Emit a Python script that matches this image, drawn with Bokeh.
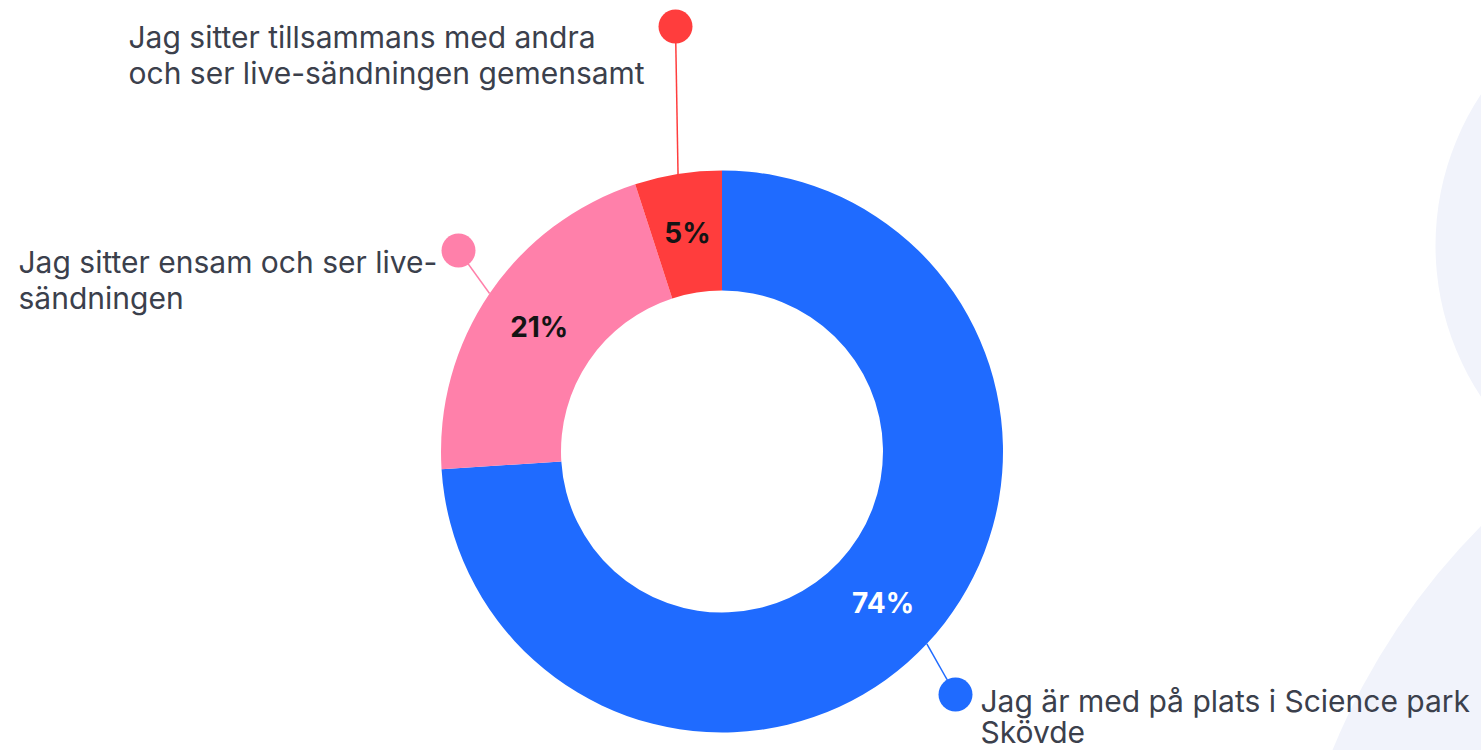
import numpy as np
from bokeh.plotting import figure
from bokeh.models import Range1d
from bokeh.core.properties import value
from bokeh.embed import file_html
from bokeh.resources import INLINE

# ---- data ----
categories = [
    "Jag är med på plats i Science park Skövde",
    "Jag sitter ensam och ser live-sändningen",
    "Jag sitter tillsammans med andra och ser live-sändningen gemensamt",
]
label_lines = [
    ["Jag är med på plats i Science park", "Skövde"],
    ["Jag sitter ensam och ser live-", "sändningen"],
    ["Jag sitter tillsammans med andra", "och ser live-sändningen gemensamt"],
]
percent = [74, 21, 5]
colors = ["#1f6bff", "#ff80aa", "#ff3d3d"]
pct_text_colors = ["#ffffff", "#141414", "#141414"]

# ---- layout (pixel coords, y measured from top) ----
W, H = 1481, 750
CX, CY = 721.5, 451
R_OUT, R_IN = 281, 161
dot_pos = [(955, 694), (458, 250), (675, 26)]
text_pos = [(980, 700, 731), (18, 261, 297), (128, 36, 72)]
FONT = "Inter"


def fy(y):
    return H - y


p = figure(width=W, height=H, x_range=Range1d(0, W), y_range=Range1d(0, H),
           output_backend="svg", toolbar_location=None, min_border=0)
p.axis.visible = False
p.grid.visible = False
p.outline_line_color = None
p.background_fill_color = "white"
p.border_fill_color = "white"

# decorative background shapes
p.circle(x=[1709], y=[fy(245)], radius=274, fill_color="#f1f3fb", line_color=None)
p.circle(x=[1973], y=[fy(1013)], radius=693, fill_color="#f1f3fb", line_color=None)

pct = np.array(percent, dtype=float)
cum = np.concatenate([[0], np.cumsum(pct)]) / pct.sum()
starts = np.pi / 2 - cum[1:] * 2 * np.pi
ends = np.pi / 2 - cum[:-1] * 2 * np.pi
mids = (starts + ends) / 2

cy = fy(CY)

# leader lines and dots
for i in range(len(percent)):
    ox = CX + R_OUT * np.cos(mids[i])
    oy = cy + R_OUT * np.sin(mids[i])
    dx, dy = dot_pos[i]
    p.line(x=[ox, dx], y=[oy, fy(dy)], line_color=colors[i], line_width=1.5)
    p.circle(x=[dx], y=[fy(dy)], radius=17, fill_color=colors[i], line_color=None)

p.annular_wedge(x=CX, y=cy, inner_radius=R_IN, outer_radius=R_OUT,
                start_angle=list(starts), end_angle=list(ends),
                fill_color=colors, line_color=None)

# percentage labels
rm = (R_IN + R_OUT) / 2
p.text(x=list(CX + rm * np.cos(mids)), y=list(cy + rm * np.sin(mids)),
       text=[f"{v}%" for v in percent], text_color=pct_text_colors,
       text_align="center", text_baseline="middle",
       text_font=value(FONT), text_font_size="28px", text_font_style="bold")

# category labels
for i in range(len(percent)):
    tx, b1, b2 = text_pos[i]
    p.text(x=[tx, tx], y=[fy(b1), fy(b2)], text=label_lines[i],
           text_color="#3b404c", text_align="left", text_baseline="alphabetic",
           text_font=value(FONT), text_font_size="30px")

open("out.html", "w").write(file_html(p, INLINE))
